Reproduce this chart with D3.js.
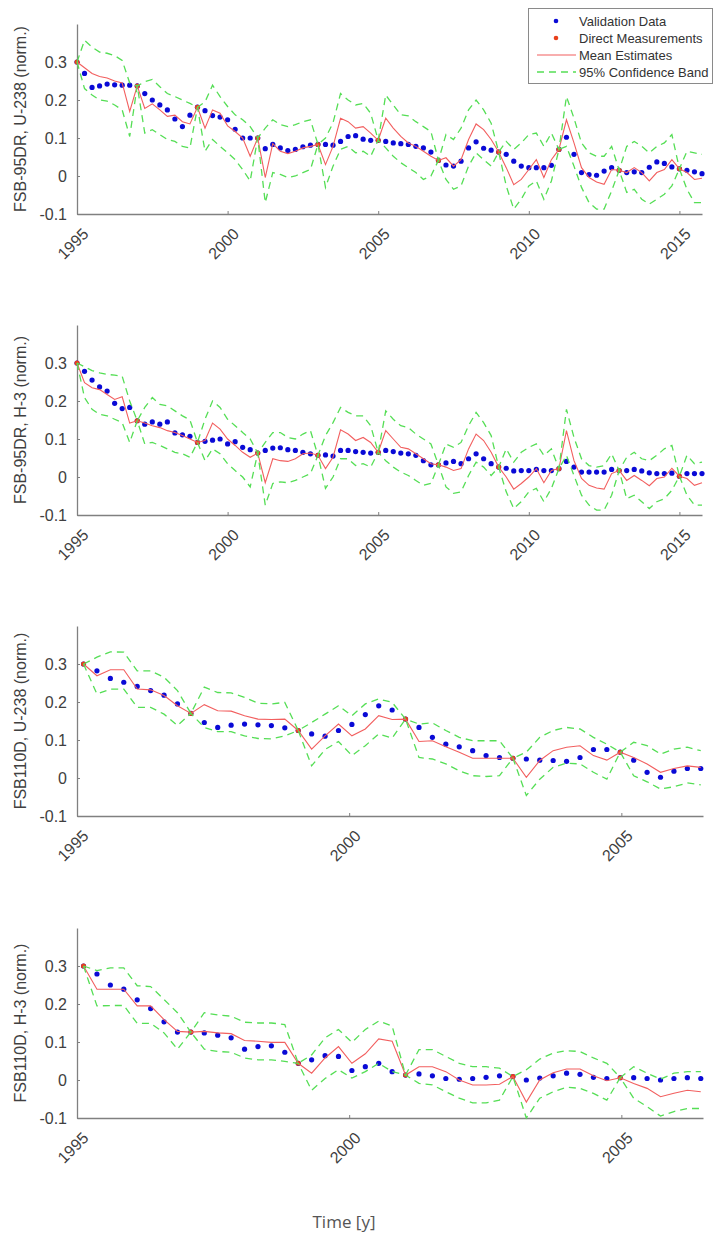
<!DOCTYPE html>
<html>
<head>
<meta charset="utf-8">
<script src="https://d3js.org/d3.v7.min.js"></script>
<style>
body { margin: 0; background: #fff; }
text { font-family: "Liberation Sans", Arial, sans-serif; }
</style>
</head>
<body>
<svg id="chart" width="715" height="1237"></svg>
<script>
// sample times: FSB-95DR quarterly 1995-2015.75, FSB110D roughly quarterly from early 1995
const t95 = d3.range(84).map(i => 1995 + i / 4);
const t110 = d3.range(47).map(i => 1995.12 + i * 0.2465);
const measEvery = 8; // direct measurement every 8th sample (2 years)

const yTicks = [-0.1, 0, 0.1, 0.2, 0.3];
const yTickLabels = ["-0.1", "0", "0.1", "0.2", "0.3"];
const xTicks95 = [1995, 2000, 2005, 2010, 2015];
const xTicks110 = [1995, 2000, 2005];

const panelLabels = ["FSB-95DR, U-238 (norm.)", "FSB-95DR, H-3 (norm.)", "FSB110D, U-238 (norm.)", "FSB110D, H-3 (norm.)"];
const legendLabels = ["Validation Data", "Direct Measurements", "Mean Estimates", "95% Confidence Band"];

// FSB-95DR, U-238
const valid1 = [0.30,0.27,0.233,0.237,0.242,0.24,0.239,0.239,0.237,0.217, 0.2,0.187,0.174,0.15,0.13,0.16,0.181,0.172,0.159,0.155, 0.148,0.123,0.1,0.1,0.1,0.072,0.083,0.074,0.067,0.07, 0.077,0.081,0.083,0.083,0.081,0.091,0.104,0.106,0.097,0.094, 0.094,0.091,0.087,0.085,0.083,0.078,0.074,0.063,0.041,0.029, 0.026,0.039,0.074,0.09,0.073,0.068,0.063,0.057,0.039,0.026, 0.022,0.022,0.022,0.028,0.07,0.102,0.057,0.009,0.004,0.002, 0.013,0.022,0.015,0.009,0.011,0.009,0.023,0.037,0.033,0.024, 0.019,0.015,0.011,0.006];
const meas1 = [0.30,0.237,0.181,0.10,0.083,0.094,0.041,0.063,0.07,0.015,0.019];
const mean1 = [0.30,0.285,0.27,0.262,0.258,0.25,0.245,0.17,0.237,0.178, 0.19,0.174,0.157,0.16,0.143,0.137,0.181,0.126,0.174,0.165, 0.132,0.117,0.1,0.052,0.1,-0.004,0.085,0.065,0.059,0.065, 0.074,0.078,0.083,0.03,0.078,0.152,0.143,0.126,0.13,0.113, 0.094,0.152,0.126,0.104,0.087,0.078,0.065,0.052,0.041,0.048, 0.026,0.043,0.096,0.137,0.122,0.096,0.063,0.022,-0.023,-0.009, 0.017,0.043,-0.004,0.043,0.07,0.148,0.087,0.022,-0.004,-0.016, -0.022,0.017,0.015,0.009,0.022,0.009,-0.013,0.009,0.017,0.043, 0.019,0.009,-0.009,-0.006];
const upper1 = [0.30,0.357,0.339,0.326,0.323,0.317,0.304,0.245,0.237,0.248, 0.254,0.235,0.217,0.209,0.2,0.191,0.181,0.195,0.239,0.209, 0.183,0.161,0.148,0.13,0.1,0.126,0.148,0.135,0.13,0.135, 0.143,0.148,0.083,0.10,0.14,0.217,0.2,0.187,0.191,0.165, 0.094,0.213,0.187,0.161,0.158,0.143,0.13,0.117,0.041,0.109, 0.096,0.126,0.174,0.2,0.174,0.139,0.063,0.091,0.07,0.087, 0.109,0.113,0.078,0.113,0.07,0.209,0.152,0.087,0.061,0.052, 0.052,0.078,0.015,0.078,0.091,0.078,0.061,0.078,0.087,0.109, 0.019,0.065,0.061,0.057];
const lower1 = [0.30,0.23,0.213,0.2,0.197,0.187,0.174,0.104,0.237,0.113, 0.122,0.109,0.096,0.091,0.078,0.074,0.181,0.065,0.096,0.078, 0.061,0.043,0.017,-0.013,0.1,-0.07,0.009,0.004,-0.004,0, 0.009,0.017,0.083,-0.03,0.026,0.07,0.078,0.061,0.065,0.052, 0.094,0.074,0.052,0.035,0.022,0.009,-0.009,0,0.041,-0.009, -0.035,-0.026,0.026,0.061,0.043,0.026,0.063,-0.026,-0.087,-0.061, -0.026,-0.013,-0.061,-0.013,0.07,0.078,0.026,-0.03,-0.07,-0.087, -0.087,-0.039,0.015,-0.043,-0.035,-0.061,-0.074,-0.061,-0.048,-0.026, 0.019,-0.035,-0.07,-0.07];

// FSB-95DR, H-3
const valid2 = [0.30,0.278,0.255,0.237,0.226,0.194,0.18,0.183,0.148,0.139, 0.145,0.139,0.145,0.116,0.111,0.107,0.091,0.094,0.097,0.1, 0.087,0.093,0.078,0.072,0.063,0.07,0.076,0.077,0.072,0.07, 0.065,0.061,0.057,0.058,0.055,0.07,0.07,0.067,0.065,0.063, 0.065,0.07,0.067,0.063,0.061,0.057,0.043,0.032,0.032,0.037, 0.041,0.035,0.048,0.061,0.048,0.035,0.026,0.023,0.016,0.017, 0.017,0.02,0.017,0.017,0.022,0.041,0.026,0.013,0.013,0.013, 0.013,0.02,0.017,0.017,0.02,0.016,0.011,0.009,0.009,0.01, 0.002,0.009,0.009,0.009];
const meas2 = [0.30,0.148,0.091,0.063,0.057,0.065,0.032,0.026,0.022,0.017,0.002];
const mean2 = [0.30,0.248,0.235,0.23,0.217,0.204,0.211,0.142,0.148,0.142, 0.135,0.13,0.122,0.117,0.109,0.1,0.091,0.096,0.142,0.126, 0.1,0.083,0.065,0.052,0.063,-0.015,0.048,0.043,0.041,0.048, 0.061,0.063,0.057,0.022,0.052,0.124,0.113,0.096,0.104,0.091, 0.065,0.122,0.1,0.078,0.074,0.061,0.048,0.035,0.032,0.026, 0.017,0.022,0.074,0.113,0.096,0.065,0.026,0,-0.032,-0.017, 0,0.022,-0.015,0.017,0.022,0.122,0.043,-0.004,-0.022,-0.029, -0.032,0.009,0.017,-0.009,0.004,-0.009,-0.023,-0.004,0,0.023, 0.002,-0.004,-0.022,-0.015];
const upper2 = [0.30,0.29,0.28,0.274,0.27,0.268,0.265,0.2,0.148,0.183, 0.209,0.191,0.187,0.174,0.161,0.15,0.091,0.152,0.2,0.183, 0.152,0.135,0.117,0.1,0.063,0.091,0.117,0.117,0.104,0.1, 0.113,0.122,0.057,0.109,0.143,0.183,0.17,0.161,0.161,0.135, 0.065,0.174,0.152,0.135,0.13,0.113,0.1,0.087,0.032,0.087, 0.078,0.091,0.135,0.17,0.143,0.109,0.026,0.074,0.039,0.065, 0.078,0.087,0.057,0.074,0.022,0.178,0.104,0.048,0.03,0.026, 0.03,0.061,0.017,0.052,0.065,0.048,0.043,0.057,0.074,0.083, 0.002,0.057,0.035,0.039];
const lower2 = [0.30,0.209,0.178,0.165,0.161,0.152,0.143,0.091,0.148,0.087, 0.091,0.083,0.074,0.065,0.061,0.052,0.091,0.043,0.074,0.061, 0.035,0.017,0,-0.026,0.063,-0.074,-0.017,-0.013,-0.015,-0.009, 0,0.009,0.057,-0.03,0,0.048,0.048,0.03,0.035,0.026, 0.065,0.043,0.026,0.013,0.004,-0.009,-0.022,-0.017,0.032,-0.026, -0.043,-0.039,0.004,0.039,0.026,0.004,0.026,-0.039,-0.083,-0.065, -0.039,-0.03,-0.065,-0.03,0.022,0.057,0.004,-0.048,-0.074,-0.087, -0.087,-0.048,0.017,-0.057,-0.048,-0.065,-0.083,-0.065,-0.057,-0.035, 0.002,-0.048,-0.074,-0.074];

// FSB110D, U-238
const valid3 = [0.30,0.282,0.262,0.252,0.241,0.23,0.218,0.195,0.17,0.146, 0.133,0.139,0.142,0.14,0.138,0.132,0.125,0.116,0.11,0.125, 0.141,0.167,0.19,0.179,0.155,0.133,0.107,0.089,0.082,0.072, 0.059,0.054,0.052,0.05,0.047,0.046,0.044,0.054,0.075,0.075, 0.068,0.047,0.015,0.002,0.018,0.025,0.025];
const meas3 = [0.30,0.17,0.125,0.155,0.052,0.068];
const mean3 = [0.30,0.269,0.285,0.285,0.234,0.232,0.217,0.19,0.17,0.193, 0.177,0.176,0.164,0.155,0.154,0.155,0.125,0.076,0.111,0.142, 0.111,0.129,0.164,0.154,0.155,0.096,0.098,0.082,0.068,0.052, 0.052,0.052,0.052,0.002,0.046,0.072,0.081,0.085,0.059,0.047, 0.068,0.054,0.037,0.015,0.025,0.032,0.028];
const upper3 = [0.30,0.318,0.332,0.331,0.282,0.282,0.265,0.23,0.17,0.239, 0.225,0.224,0.212,0.197,0.195,0.199,0.125,0.146,0.168,0.19, 0.164,0.195,0.208,0.199,0.155,0.142,0.145,0.125,0.107,0.098, 0.098,0.098,0.052,0.068,0.107,0.125,0.133,0.129,0.107,0.089, 0.068,0.094,0.085,0.063,0.076,0.081,0.072];
const lower3 = [0.30,0.221,0.234,0.234,0.186,0.186,0.168,0.138,0.17,0.133, 0.122,0.122,0.111,0.104,0.103,0.111,0.125,0.032,0.075,0.096, 0.059,0.085,0.116,0.105,0.155,0.054,0.05,0.037,0.019,0.006, 0.004,0.006,0.052,-0.046,-0.003,0.028,0.039,0.037,0.015,-0.003, 0.068,0.006,-0.01,-0.029,-0.023,-0.013,-0.018];

// FSB110D, H-3
const valid4 = [0.30,0.279,0.25,0.239,0.211,0.188,0.153,0.126,0.126,0.124, 0.118,0.111,0.081,0.088,0.09,0.073,0.044,0.053,0.064,0.062, 0.025,0.035,0.044,0.022,0.013,0.016,0.011,0.004,0.002,0.004, 0.007,0.011,0.009,0,0.005,0.011,0.018,0.015,0.007,0.004, 0.006,0.006,0.004,0,0.004,0.006,0.004];
const meas4 = [0.30,0.126,0.044,0.013,0.009,0.006];
const mean4 = [0.30,0.239,0.239,0.239,0.195,0.195,0.159,0.128,0.126,0.128, 0.124,0.122,0.104,0.102,0.099,0.099,0.044,0.018,0.058,0.088, 0.044,0.069,0.108,0.102,0.013,0.035,0.035,0.022,0,-0.013, -0.013,-0.011,0.009,-0.058,0,0.019,0.029,0.029,0.011,-0.002, 0.006,-0.009,-0.022,-0.044,-0.035,-0.027,-0.031];
const upper4 = [0.30,0.288,0.295,0.295,0.248,0.246,0.212,0.177,0.126,0.177, 0.171,0.168,0.152,0.15,0.15,0.146,0.044,0.066,0.111,0.133, 0.099,0.133,0.155,0.142,0.013,0.08,0.08,0.062,0.044,0.035, 0.035,0.031,0.009,0.027,0.055,0.071,0.077,0.075,0.058,0.044, 0.006,0.035,0.018,0.002,0.018,0.022,0.022];
const lower4 = [0.30,0.195,0.196,0.196,0.149,0.149,0.124,0.081,0.126,0.081, 0.075,0.073,0.058,0.053,0.053,0.049,0.044,-0.027,0.004,0.027, 0.005,0.022,0.044,0.022,0.013,-0.009,-0.013,-0.031,-0.048,-0.06, -0.06,-0.053,0.009,-0.1,-0.048,-0.031,-0.019,-0.022,-0.035,-0.053, 0.006,-0.048,-0.07,-0.095,-0.083,-0.075,-0.075];

const colValid = "#0a0ad6", colMeas = "#e8401c", colMean = "#f25f5f", colBand = "#55de55";
const axisCol = "#808080", textCol = "#404040";

const svg = d3.select("#chart");
svg.append("rect").attr("width", 715).attr("height", 1237).attr("fill", "#fff");

const panels = [
  {label: panelLabels[0], t: t95, valid: valid1, meas: meas1, mean: mean1, upper: upper1, lower: lower1, dom: [1995, 2015.75], right: 702, ticks: xTicks95, top: 24},
  {label: panelLabels[1], t: t95, valid: valid2, meas: meas2, mean: mean2, upper: upper2, lower: lower2, dom: [1995, 2015.75], right: 702, ticks: xTicks95, top: 325},
  {label: panelLabels[2], t: t110, valid: valid3, meas: meas3, mean: mean3, upper: upper3, lower: lower3, dom: [1995, 2006.5], right: 703, ticks: xTicks110, top: 626},
  {label: panelLabels[3], t: t110, valid: valid4, meas: meas4, mean: mean4, upper: upper4, lower: lower4, dom: [1995, 2006.5], right: 703, ticks: xTicks110, top: 928}
];

const left = 77, plotH = 190;

panels.forEach(function(p) {
  var x = d3.scaleLinear().domain(p.dom).range([left, p.right]);
  var y = d3.scaleLinear().domain([-0.1, 0.4]).range([p.top + plotH, p.top]);
  var g = svg.append("g");

  var ya = g.append("g").attr("transform", "translate(" + left + ",0)")
    .call(d3.axisLeft(y).tickValues(yTicks).tickFormat((d, i) => yTickLabels[i]).tickSizeInner(-3).tickSizeOuter(0).tickPadding(10));
  ya.selectAll("text").attr("font-size", 16).attr("fill", textCol).style("font-family", "Liberation Sans, Arial, sans-serif");

  var xa = g.append("g").attr("transform", "translate(0," + (p.top + plotH) + ")")
    .call(d3.axisBottom(x).tickValues(p.ticks).tickFormat(d3.format("d")).tickSizeInner(-3).tickSizeOuter(0));
  xa.selectAll("text").attr("font-size", 16).attr("fill", textCol).style("font-family", "Liberation Sans, Arial, sans-serif")
    .attr("x", 0).attr("y", 0).attr("dy", 0).attr("text-anchor", "end")
    .attr("transform", "translate(12,21) rotate(-45)");
  [ya, xa].forEach(a => {
    a.select(".domain").attr("stroke", axisCol).attr("stroke-width", 1.3);
    a.selectAll(".tick line").attr("stroke", axisCol);
  });

  g.append("text").attr("transform", "translate(26," + (p.top + plotH / 2) + ") rotate(-90)")
    .attr("text-anchor", "middle").attr("font-size", 16).attr("fill", textCol).text(p.label);

  var line = d3.line().x((d, i) => x(p.t[i])).y(d => y(d));

  g.append("g").selectAll("circle").data(p.valid).enter().append("circle")
    .attr("cx", (d, i) => x(p.t[i])).attr("cy", d => y(d)).attr("r", 2.6).attr("fill", colValid);
  g.append("g").selectAll("circle").data(p.meas).enter().append("circle")
    .attr("cx", (d, i) => x(p.t[i * measEvery])).attr("cy", d => y(d)).attr("r", 2.5).attr("fill", colMeas);
  g.append("path").datum(p.mean).attr("d", line).attr("fill", "none").attr("stroke", colMean).attr("stroke-width", 1.1);
  [p.upper, p.lower].forEach(b => {
    g.append("path").datum(b).attr("d", line).attr("fill", "none").attr("stroke", colBand)
      .attr("stroke-width", 1.3).attr("stroke-dasharray", "7,5");
  });
});

// legend
var lg = svg.append("g");
lg.append("rect").attr("x", 528.5).attr("y", 8.5).attr("width", 184).attr("height", 75)
  .attr("fill", "#fff").attr("stroke", "#8a8a8a");
var rowY = [21, 38, 55, 72];
lg.append("circle").attr("cx", 556).attr("cy", rowY[0]).attr("r", 2.3).attr("fill", colValid);
lg.append("circle").attr("cx", 556).attr("cy", rowY[1]).attr("r", 2.3).attr("fill", colMeas);
lg.append("line").attr("x1", 537).attr("x2", 576).attr("y1", rowY[2]).attr("y2", rowY[2]).attr("stroke", colMean).attr("stroke-width", 1.1);
lg.append("line").attr("x1", 537).attr("x2", 576).attr("y1", rowY[3]).attr("y2", rowY[3]).attr("stroke", colBand).attr("stroke-width", 1.3).attr("stroke-dasharray", "7,5");
lg.selectAll("text.lab").data(legendLabels).enter().append("text").attr("class", "lab")
  .attr("x", 579).attr("y", (d, i) => rowY[i]).attr("dy", "0.35em")
  .attr("font-size", 13).attr("fill", "#333").text(d => d);

// shared x label
svg.append("text").attr("x", 344).attr("y", 1228).attr("text-anchor", "middle")
  .attr("font-size", 17).attr("fill", "#555").style("font-family", "Open Sans, sans-serif").text("Time [y]");
</script>
</body>
</html>
